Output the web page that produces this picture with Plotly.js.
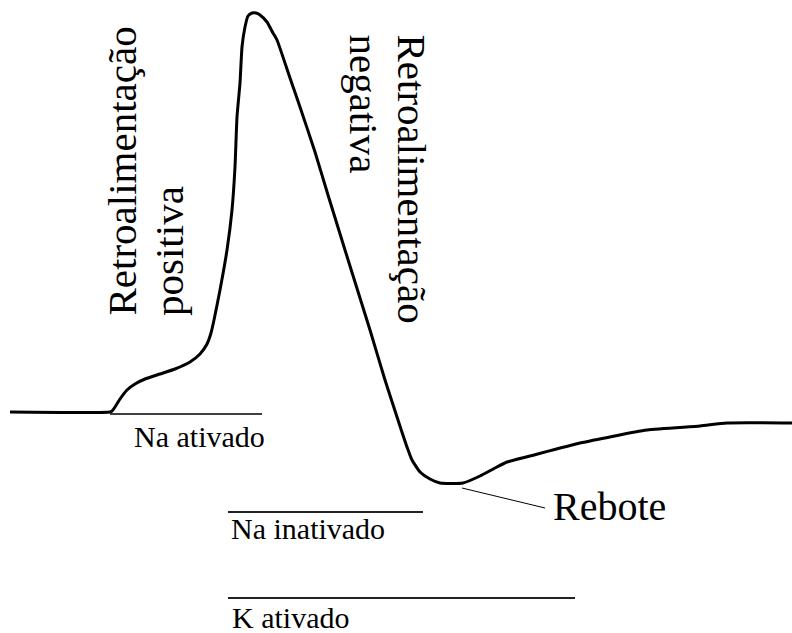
<!DOCTYPE html>
<html>
<head>
<meta charset="utf-8">
<script src="https://cdn.plot.ly/plotly-3.0.1.min.js"></script>
<style>html,body{margin:0;padding:0;background:#fff;}#chart{width:792px;height:633px;}</style>
</head>
<body>
<div id="chart"></div>
<script>
// Action potential trace (time, level); level axis points downward
const apTime  = [10,110,112,115,120,127,135,145,160,175,190,200,207,211,214,220,227,232,235,237,240,242,245,248,252,256,260,267,273,277,290,300,315,328,345,360,370,385,398,407,412,420,430,440,463,480,495,507,530,580,647,700,727,792];
const apLevel = [412,412,411,407,399,390,384,379,374,369,362,354,344,333,320,290,250,210,167,117,83,47,27,16,13,13,15,22,33,40,78,107,152,195,250,298,330,380,420,447,460,472,479,483,483,476,468,462,456,443,430,426,423,423];

// Channel-state bars: [start, end] and level
const naActTime   = [110, 262];  const naActLevel   = [414, 414];
const naInactTime = [228, 423];  const naInactLevel = [512, 512];
const kActTime    = [228, 575];  const kActLevel    = [598, 598];

// Leader line to "Rebote"
const leaderTime  = [462, 545];  const leaderLevel  = [488, 508];

// Labels
const labels = {
  naAct: "Na ativado",
  naInact: "Na inativado",
  kAct: "K ativado",
  rebote: "Rebote",
  retro: "Retroalimentação",
  pos: "positiva",
  neg: "negativa"
};

const serif = "Liberation Serif";

const traces = [
  {x: apTime, y: apLevel, mode: "lines", line: {color: "#000", width: 3, shape: "spline", smoothing: 0.5}, hoverinfo: "skip"},
  {x: naActTime, y: naActLevel, mode: "lines", line: {color: "#000", width: 1.6}, hoverinfo: "skip"},
  {x: naInactTime, y: naInactLevel, mode: "lines", line: {color: "#222", width: 1.8}, hoverinfo: "skip"},
  {x: kActTime, y: kActLevel, mode: "lines", line: {color: "#222", width: 1.8}, hoverinfo: "skip"},
  {x: leaderTime, y: leaderLevel, mode: "lines", line: {color: "#000", width: 1}, hoverinfo: "skip"}
];

function ann(text, x, y, size, xanchor, yanchor, angle) {
  return {text: text, x: x, y: y, xref: "x", yref: "y", showarrow: false,
          xanchor: xanchor, yanchor: yanchor, textangle: angle || 0,
          borderpad: 0, font: {family: serif, size: size, color: "#000"}};
}

const layout = {
  width: 792, height: 633,
  margin: {l: 0, r: 0, t: 0, b: 0},
  paper_bgcolor: "#fff", plot_bgcolor: "#fff",
  showlegend: false,
  font: {family: serif},
  xaxis: {range: [0, 792], visible: false, fixedrange: true},
  yaxis: {range: [633, 0], visible: false, fixedrange: true},
  annotations: [
    ann(labels.naAct, 133, 436, 30, "left", "middle"),
    ann(labels.naInact, 230, 528, 30, "left", "middle"),
    ann(labels.kAct, 231, 617, 30, "left", "middle"),
    ann(labels.rebote, 552, 506, 40, "left", "middle"),
    ann(labels.retro, 121, 317, 41, "center", "bottom", -90),
    ann(labels.pos, 169, 317, 41, "center", "bottom", -90),
    ann(labels.retro, 412, 33, 41, "center", "top", 90),
    ann(labels.neg, 364, 33, 41, "center", "top", 90)
  ]
};

Plotly.newPlot("chart", traces, layout, {displayModeBar: false, staticPlot: true});
</script>
</body>
</html>
